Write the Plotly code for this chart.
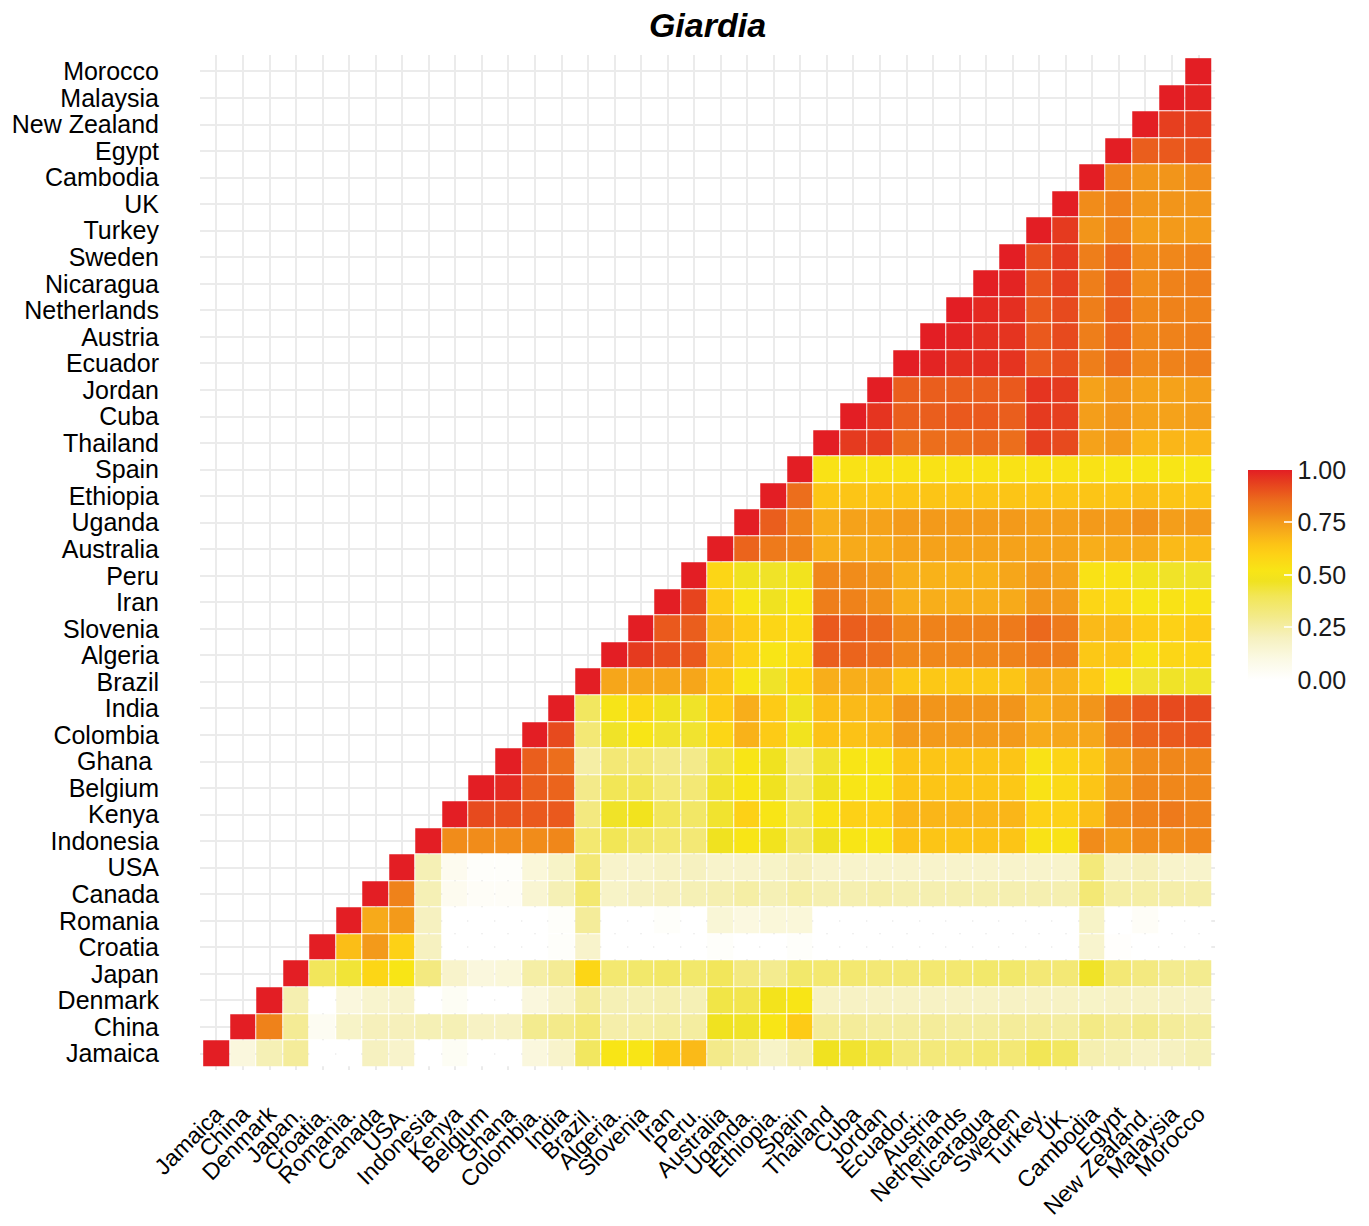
import plotly.graph_objects as go

# Country order along both axes (bottom-to-top on y, left-to-right on x)
countries = ["Jamaica", "China", "Denmark", "Japan", "Croatia", "Romania", "Canada", "USA",
             "Indonesia", "Kenya", "Belgium", "Ghana", "Colombia", "India", "Brazil", "Algeria",
             "Slovenia", "Iran", "Peru", "Australia", "Uganda", "Ethiopia", "Spain", "Thailand",
             "Cuba", "Jordan", "Ecuador", "Austria", "Netherlands", "Nicaragua", "Sweden", "Turkey",
             "UK", "Cambodia", "Egypt", "New Zealand", "Malaysia", "Morocco"]

x_labels = ["Jamaica", "China", "Denmark", "Japan.", "Croatia.", "Romania.", "Canada", "USA.",
            "Indonesia", "Kenya", "Belgium", "Ghana", "Colombia.", "India", "Brazil.", "Algeria.",
            "Slovenia", "Iran", "Peru.", "Australia", "Uganda.", "Ethiopia.", "Spain", "Thailand",
            "Cuba", "Jordan", "Ecuador.", "Austria", "Netherlands", "Nicaragua", "Sweden", "Turkey.",
            "UK.", "Cambodia", "Egypt", "New Zealand.", "Malaysia", "Morocco"]

y_labels = ["Jamaica", "China", "Denmark", "Japan", "Croatia", "Romania", "Canada", "USA",
            "Indonesia", "Kenya", "Belgium", "Ghana\u00a0", "Colombia", "India", "Brazil", "Algeria",
            "Slovenia", "Iran", "Peru", "Australia", "Uganda", "Ethiopia", "Spain", "Thailand",
            "Cuba", "Jordan", "Ecuador", "Austria", "Netherlands", "Nicaragua", "Sweden", "Turkey",
            "UK", "Cambodia", "Egypt", "New Zealand", "Malaysia", "Morocco"]

# Similarity of each country with itself and every country to its right
r_jamaica = [1.0, 0.12, 0.22, 0.27, 0, 0, 0.2, 0.17, 0, 0.04, 0, 0, 0.12, 0.17, 0.38, 0.52, 0.52, 0.63, 0.67,
             0.3, 0.26, 0.18, 0.23, 0.47, 0.45, 0.42, 0.33, 0.33, 0.33, 0.35, 0.34, 0.4, 0.38, 0.23, 0.22, 0.19, 0.2, 0.22]
r_china = [1.0, 0.8, 0.28, 0.05, 0.18, 0.21, 0.21, 0.22, 0.22, 0.19, 0.19, 0.29, 0.3, 0.34, 0.24, 0.25, 0.26, 0.26,
           0.47, 0.46, 0.52, 0.62, 0.27, 0.27, 0.26, 0.26, 0.27, 0.26, 0.26, 0.27, 0.27, 0.26, 0.31, 0.28, 0.3, 0.27, 0.26]
r_denmark = [1.0, 0.23, 0, 0.12, 0.16, 0.17, 0, 0.04, 0, 0, 0.12, 0.17, 0.27, 0.22, 0.22, 0.23, 0.22,
             0.42, 0.41, 0.49, 0.52, 0.19, 0.19, 0.19, 0.19, 0.19, 0.19, 0.19, 0.19, 0.19, 0.19, 0.18, 0.19, 0.19, 0.19, 0.19]
r_japan = [1.0, 0.39, 0.44, 0.58, 0.52, 0.32, 0.17, 0.12, 0.13, 0.25, 0.28, 0.58, 0.35, 0.36, 0.37, 0.36,
           0.39, 0.32, 0.29, 0.36, 0.35, 0.35, 0.34, 0.34, 0.35, 0.35, 0.36, 0.36, 0.34, 0.34, 0.46, 0.34, 0.32, 0.29, 0.29]
r_croatia = [1.0, 0.66, 0.75, 0.6, 0.2, 0, 0, 0, 0, 0.02, 0.17, 0, 0, 0, 0, 0.02, 0, 0, 0.02,
             0, 0, 0, 0, 0, 0, 0, 0, 0, 0, 0.16, 0.01, 0, 0, 0]
r_romania = [1.0, 0.71, 0.75, 0.2, 0, 0, 0, 0, 0.02, 0.27, 0, 0, 0.02, 0, 0.14, 0.11, 0.13, 0.13,
             0, 0, 0, 0, 0, 0, 0, 0, 0, 0, 0.18, 0, 0.03, 0, 0]
r_canada = [1.0, 0.8, 0.22, 0.06, 0.03, 0.03, 0.15, 0.22, 0.35, 0.18, 0.2, 0.21, 0.22, 0.23, 0.25, 0.22, 0.25,
            0.23, 0.23, 0.24, 0.23, 0.23, 0.23, 0.23, 0.23, 0.23, 0.23, 0.34, 0.25, 0.25, 0.24, 0.24]
r_usa = [1.0, 0.22, 0.06, 0.02, 0.02, 0.13, 0.18, 0.34, 0.17, 0.17, 0.19, 0.2, 0.17, 0.17, 0.18, 0.21,
         0.17, 0.17, 0.17, 0.17, 0.17, 0.17, 0.17, 0.17, 0.17, 0.17, 0.33, 0.19, 0.21, 0.17, 0.17]
r_indonesia = [1.0, 0.78, 0.78, 0.78, 0.78, 0.79, 0.35, 0.4, 0.37, 0.35, 0.34, 0.47, 0.52, 0.48, 0.37,
               0.47, 0.52, 0.52, 0.65, 0.64, 0.64, 0.65, 0.64, 0.53, 0.53, 0.78, 0.75, 0.78, 0.78, 0.79]
r_kenya = [1.0, 0.92, 0.91, 0.89, 0.89, 0.32, 0.46, 0.48, 0.39, 0.37, 0.45, 0.6, 0.52, 0.4,
           0.53, 0.6, 0.6, 0.68, 0.68, 0.68, 0.68, 0.68, 0.6, 0.6, 0.66, 0.78, 0.8, 0.82, 0.8]
r_belgium = [1.0, 0.98, 0.88, 0.87, 0.3, 0.4, 0.4, 0.33, 0.34, 0.45, 0.52, 0.47, 0.36,
             0.47, 0.52, 0.52, 0.64, 0.64, 0.64, 0.64, 0.63, 0.53, 0.57, 0.64, 0.74, 0.79, 0.79, 0.79]
r_ghana = [1.0, 0.88, 0.85, 0.25, 0.34, 0.34, 0.3, 0.3, 0.42, 0.52, 0.47, 0.33,
           0.45, 0.52, 0.52, 0.64, 0.64, 0.64, 0.64, 0.64, 0.53, 0.59, 0.63, 0.73, 0.78, 0.79, 0.79]
r_colombia = [1.0, 0.92, 0.34, 0.46, 0.52, 0.45, 0.45, 0.58, 0.69, 0.62, 0.48,
              0.65, 0.65, 0.67, 0.75, 0.75, 0.75, 0.75, 0.75, 0.71, 0.72, 0.72, 0.82, 0.87, 0.89, 0.9]
r_india = [1.0, 0.38, 0.51, 0.57, 0.47, 0.46, 0.62, 0.7, 0.62, 0.47,
           0.66, 0.67, 0.68, 0.76, 0.76, 0.76, 0.76, 0.76, 0.7, 0.73, 0.76, 0.85, 0.89, 0.92, 0.92]
r_brazil = [1.0, 0.72, 0.72, 0.72, 0.72, 0.64, 0.52, 0.46, 0.58,
            0.7, 0.7, 0.7, 0.63, 0.63, 0.63, 0.63, 0.64, 0.7, 0.69, 0.62, 0.52, 0.45, 0.46, 0.46]
r_algeria = [1.0, 0.95, 0.91, 0.89, 0.68, 0.6, 0.52, 0.56,
             0.88, 0.87, 0.85, 0.79, 0.79, 0.79, 0.79, 0.8, 0.82, 0.81, 0.63, 0.64, 0.54, 0.58, 0.58]
r_slovenia = [1.0, 0.89, 0.88, 0.68, 0.62, 0.58, 0.56,
              0.89, 0.88, 0.86, 0.79, 0.8, 0.8, 0.8, 0.82, 0.86, 0.82, 0.67, 0.67, 0.62, 0.6, 0.62]
r_iran = [1.0, 0.93, 0.62, 0.52, 0.47, 0.52,
          0.81, 0.8, 0.77, 0.7, 0.7, 0.7, 0.7, 0.71, 0.76, 0.75, 0.58, 0.57, 0.52, 0.53, 0.53]
r_peru = [1.0, 0.58, 0.47, 0.46, 0.48,
          0.79, 0.78, 0.76, 0.7, 0.69, 0.69, 0.69, 0.72, 0.75, 0.73, 0.53, 0.53, 0.48, 0.46, 0.46]
r_australia = [1.0, 0.87, 0.82, 0.8,
               0.7, 0.71, 0.71, 0.73, 0.73, 0.73, 0.73, 0.73, 0.73, 0.73, 0.7, 0.71, 0.71, 0.67, 0.67]
r_uganda = [1.0, 0.88, 0.8,
            0.7, 0.73, 0.73, 0.75, 0.75, 0.75, 0.75, 0.75, 0.74, 0.74, 0.75, 0.75, 0.77, 0.74, 0.75]
r_ethiopia = [1.0, 0.85,
              0.64, 0.64, 0.64, 0.64, 0.64, 0.64, 0.64, 0.64, 0.64, 0.64, 0.64, 0.64, 0.66, 0.64, 0.64]
r_spain = [1.0,
           0.53, 0.53, 0.53, 0.53, 0.53, 0.53, 0.53, 0.53, 0.53, 0.53, 0.53, 0.52, 0.52, 0.52, 0.52]
r_thailand = [1.0, 0.95, 0.94, 0.85, 0.85, 0.85, 0.86, 0.85, 0.94, 0.92, 0.73, 0.75, 0.68, 0.68, 0.68]
r_cuba = [1.0, 0.96, 0.88, 0.88, 0.89, 0.89, 0.88, 0.95, 0.94, 0.74, 0.76, 0.73, 0.73, 0.74]
r_jordan = [1.0, 0.88, 0.88, 0.88, 0.88, 0.89, 0.96, 0.95, 0.73, 0.76, 0.73, 0.73, 0.74]
r_ecuador = [1.0, 0.99, 0.97, 0.97, 0.96, 0.89, 0.91, 0.81, 0.86, 0.79, 0.8, 0.81]
r_austria = [1.0, 0.99, 0.97, 0.96, 0.89, 0.92, 0.81, 0.87, 0.79, 0.8, 0.81]
r_netherlands = [1.0, 0.98, 0.97, 0.89, 0.92, 0.81, 0.88, 0.79, 0.8, 0.8]
r_nicaragua = [1.0, 0.99, 0.9, 0.94, 0.81, 0.88, 0.78, 0.8, 0.81]
r_sweden = [1.0, 0.91, 0.95, 0.81, 0.87, 0.78, 0.79, 0.8]
r_turkey = [1.0, 0.95, 0.76, 0.8, 0.74, 0.75, 0.75]
r_uk = [1.0, 0.78, 0.8, 0.76, 0.76, 0.76]
r_cambodia = [1.0, 0.8, 0.76, 0.76, 0.78]
r_egypt = [1.0, 0.88, 0.89, 0.9]
r_new_zealand = [1.0, 0.94, 0.94]
r_malaysia = [1.0, 0.99]
r_morocco = [1.0]

upper_rows = [r_jamaica, r_china, r_denmark, r_japan, r_croatia, r_romania, r_canada, r_usa,
              r_indonesia, r_kenya, r_belgium, r_ghana, r_colombia, r_india, r_brazil, r_algeria,
              r_slovenia, r_iran, r_peru, r_australia, r_uganda, r_ethiopia, r_spain, r_thailand,
              r_cuba, r_jordan, r_ecuador, r_austria, r_netherlands, r_nicaragua, r_sweden, r_turkey,
              r_uk, r_cambodia, r_egypt, r_new_zealand, r_malaysia, r_morocco]

n = len(countries)
z = []
for i, row in enumerate(upper_rows):
    assert len(row) == n - i, (countries[i], len(row))
    z.append([None] * i + list(row))

colorscale = [
    [0.00, "#FFFFFF"],
    [0.10, "#FBF9E4"],
    [0.20, "#F6F1C0"],
    [0.30, "#F3EA8A"],
    [0.40, "#F2E656"],
    [0.47, "#F0E220"],
    [0.52, "#F8E516"],
    [0.60, "#FDD116"],
    [0.65, "#FCC216"],
    [0.70, "#F8AE1A"],
    [0.75, "#F39A1A"],
    [0.80, "#EF821A"],
    [0.85, "#EC6E1C"],
    [0.90, "#E9541D"],
    [0.95, "#E53A1F"],
    [1.00, "#E31E24"],
]

font_family = "Liberation Sans, Arial, Helvetica, sans-serif"

fig = go.Figure(go.Heatmap(
    z=z,
    x=list(range(n)),
    y=list(range(n)),
    zmin=0, zmax=1,
    colorscale=colorscale,
    xgap=1, ygap=1,
    hoverongaps=False,
    colorbar=dict(
        thickness=44,
        lenmode="pixels", len=210,
        x=1.0325, xanchor="left",
        y=0.4877, yanchor="middle",
        ypad=0, xpad=0,
        outlinewidth=0,
        tickvals=[0, 0.25, 0.5, 0.75, 1.0],
        ticktext=["0.00", "0.25", "0.50", "0.75", "1.00"],
        ticks="inside", ticklen=8, tickcolor="rgba(255,255,255,0.8)", tickwidth=1.5,
        tickfont=dict(family=font_family, size=25, color="#1a1a1a"),
    ),
))

fig.update_layout(
    width=1369, height=1226,
    margin=dict(l=200, r=154, t=55, b=156, autoexpand=False),
    paper_bgcolor="white",
    plot_bgcolor="white",
    title=dict(
        text="<b><i>Giardia</i></b>",
        x=0.5, xref="paper", xanchor="center",
        y=1 - 25 / 1226, yref="container", yanchor="middle",
        font=dict(family=font_family, size=34, color="black"),
    ),
    font=dict(family=font_family),
)

fig.update_xaxes(
    tickmode="array", tickvals=list(range(n)), ticktext=x_labels,
    tickangle=-45, range=[-0.62, n - 0.38],
    showgrid=True, gridcolor="#EBEBEB", gridwidth=1.5,
    zeroline=False, showline=False, ticks="",
    automargin=False,
    ticklabelstandoff=25,
    tickfont=dict(family=font_family, size=23, color="black"),
)
fig.update_yaxes(
    tickmode="array", tickvals=list(range(n)), ticktext=y_labels,
    range=[-0.62, n - 0.38],
    showgrid=True, gridcolor="#EBEBEB", gridwidth=1.5,
    zeroline=False, showline=False, ticks="",
    automargin=False,
    ticklabelstandoff=40,
    tickfont=dict(family=font_family, size=25, color="black"),
)

fig.write_html("out.html")
